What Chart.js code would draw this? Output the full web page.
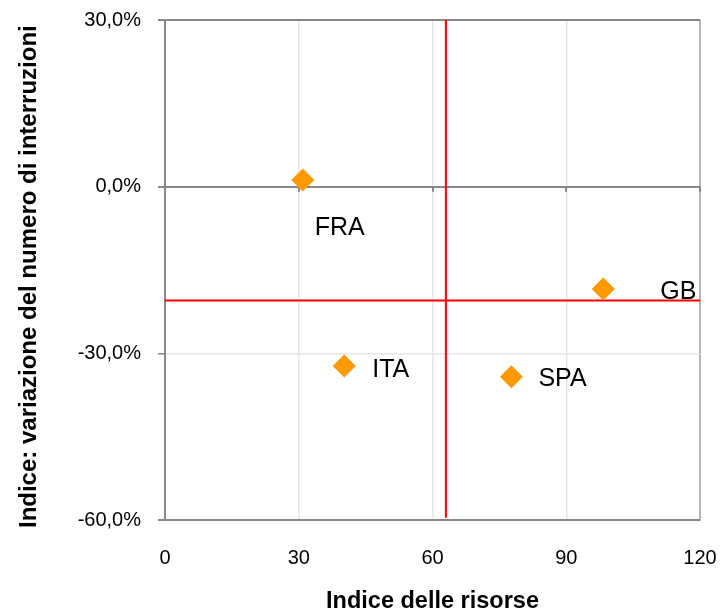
<!DOCTYPE html>
<html>
<head>
<meta charset="utf-8">
<script src="https://cdn.jsdelivr.net/npm/chart.js@4/dist/chart.umd.min.js"></script>
<style>
  html, body { margin: 0; padding: 0; background: #fff; }
  #wrap { width: 722px; height: 616px; position: relative; }
</style>
</head>
<body>
<div id="wrap"><canvas id="c"></canvas></div>
<script>
// ---- Data ----
const countries = ['FRA', 'GB', 'SPA', 'ITA'];
const resourceIndex = [30.9, 98.3, 77.7, 40.2];        // x: Indice delle risorse
const interruptionChange = [1.2, -18.4, -34.2, -32.3]; // y: variazione % numero interruzioni
const xTicks = [0, 30, 60, 90, 120];
const yTicks = [-60, -30, 0, 30];
const refX = 63;          // vertical red reference line (x value)
const refXSpan = [30, -59.6];
const refY = -20.5;       // horizontal red reference line (y value)
const refYSpan = [0, 120];

// label offsets (pixels) relative to each point
const labelOffsets = [[12, 46], [57, 1], [27, 0], [28, 2]];

const GRAY = '#878787';
const LIGHT = '#e6e6e6';
const FONT = "'Liberation Sans', Arial, sans-serif";

const labelPlugin = {
  id: 'pointLabels',
  afterDatasetsDraw(chart) {
    const meta = chart.getDatasetMeta(0);
    const ctx = chart.ctx;
    ctx.save();
    ctx.font = '25px ' + FONT;
    ctx.fillStyle = '#000';
    ctx.textAlign = 'left';
    ctx.textBaseline = 'alphabetic';
    meta.data.forEach((pt, i) => {
      const [dx, dy] = labelOffsets[i];
      ctx.fillText(countries[i], pt.x + dx, pt.y + dy + 9);
    });
    ctx.restore();
  }
};

const zeroTicksPlugin = {
  id: 'zeroTicks',
  beforeDatasetsDraw(chart) {
    const xs = chart.scales.x, ys = chart.scales.y;
    const y0 = ys.getPixelForValue(0);
    const ctx = chart.ctx;
    ctx.save();
    ctx.strokeStyle = GRAY;
    ctx.lineWidth = 2;
    xTicks.forEach(v => {
      if (v === 0) return;
      const px = Math.round(xs.getPixelForValue(v));
      ctx.beginPath();
      ctx.moveTo(px, y0);
      ctx.lineTo(px, y0 + 5);
      ctx.stroke();
    });
    ctx.restore();
  }
};

const pts = resourceIndex.map((x, i) => ({ x, y: interruptionChange[i] }));

new Chart(document.getElementById('c'), {
  type: 'scatter',
  data: {
    datasets: [
      {
        data: pts,
        pointStyle: 'rectRot',
        pointRadius: 11.5,
        pointBackgroundColor: '#FF9900',
        pointBorderWidth: 0,
        borderWidth: 0,
        order: 0
      },
      {
        type: 'line',
        data: refXSpan.map(y => ({ x: refX, y })),
        borderColor: '#FF0000',
        borderWidth: 2,
        pointRadius: 0,
        fill: false,
        order: 1
      },
      {
        type: 'line',
        data: refYSpan.map(x => ({ x, y: refY })),
        borderColor: '#FF0000',
        borderWidth: 2,
        pointRadius: 0,
        fill: false,
        order: 1
      }
    ]
  },
  options: {
    responsive: true,
    maintainAspectRatio: false,
    animation: false,
    layout: { padding: { top: 20, right: 22, left: 0, bottom: 0 } },
    plugins: { legend: { display: false }, tooltip: { enabled: false } },
    scales: {
      x: {
        type: 'linear',
        min: 0, max: 120,
        afterBuildTicks(scale) { scale.ticks = xTicks.map(v => ({ value: v })); },
        afterFit(scale) {
          scale.height = 96;
          scale.paddingLeft = 0; scale.paddingRight = 0;
        },
        grid: {
          color: ctx => (ctx.tick && ctx.tick.value === 120) ? '#b5b5b5' : LIGHT,
          lineWidth: ctx => (ctx.tick && ctx.tick.value === 120) ? 2 : 1.5,
          drawTicks: false
        },
        border: { color: GRAY, width: 2 },
        ticks: {
          color: '#000',
          font: { family: FONT, size: 20 },
          padding: 26,
          maxRotation: 0
        },
        title: {
          display: true,
          text: 'Indice delle risorse',
          color: '#000',
          font: { family: FONT, size: 23.5, weight: 'bold' },
          padding: { top: 0, bottom: 0 }
        }
      },
      y: {
        type: 'linear',
        min: -60, max: 30,
        afterBuildTicks(scale) { scale.ticks = yTicks.map(v => ({ value: v })); },
        afterFit(scale) {
          scale.width = 165;
          scale.paddingTop = 0; scale.paddingBottom = 0;
        },
        grid: {
          color: ctx => (ctx.tick && ctx.tick.value === -30) ? LIGHT : GRAY,
          lineWidth: ctx => (ctx.tick && ctx.tick.value === -30) ? 1.5 : 2,
          tickColor: GRAY,
          tickLength: 7
        },
        border: { color: GRAY, width: 2 },
        ticks: {
          color: '#000',
          font: { family: FONT, size: 20 },
          padding: 17,
          callback: v => v.toFixed(1).replace('.', ',') + '%'
        },
        title: {
          display: true,
          text: 'Indice: variazione del numero di interruzioni  ',
          color: '#000',
          font: { family: FONT, size: 24, weight: 'bold' },
          padding: { top: 15, bottom: 0 }
        }
      }
    }
  },
  plugins: [zeroTicksPlugin, labelPlugin]
});
</script>
</body>
</html>
